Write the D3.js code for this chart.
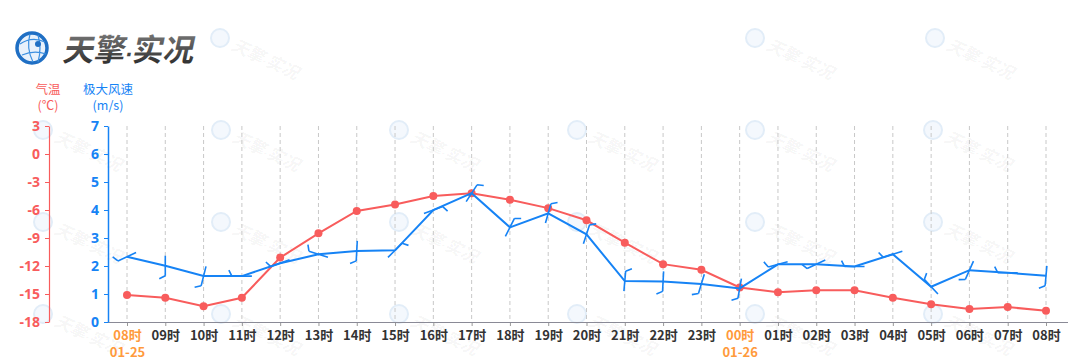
<!DOCTYPE html>
<html>
<head>
<meta charset="utf-8">
<script src="https://cdn.jsdelivr.net/npm/d3@7"></script>
<style>
  body { margin: 0; background: #fff; }
  svg { display: block; font-family: "Noto Sans CJK SC", "Noto Sans", sans-serif; }
</style>
</head>
<body>
<div id="chart"></div>
<script>
// hours shown on the x axis (25 points, 08时 01-25 -> 08时 01-26)
var hourLabels = ['08时','09时','10时','11时','12时','13时','14时','15时','16时','17时','18时','19时','20时',
  '21时','22时','23时','00时','01时','02时','03时','04时','05时','06时','07时','08时'];
var dateLabels = { 0: '01-25', 16: '01-26' };

// 气温 (℃)
var temperature = [-15.1, -15.4, -16.3, -15.4, -11.1, -8.5, -6.1, -5.4, -4.5, -4.2, -4.9, -5.8, -7.1,
  -9.5, -11.8, -12.4, -14.3, -14.8, -14.6, -14.6, -15.4, -16.1, -16.6, -16.4, -16.8];

// 极大风速 (m/s)
var windSpeed = [2.33, 2.01, 1.64, 1.64, 2.1, 2.42, 2.54, 2.56, 4.0, 4.6, 3.38, 3.88, 3.13,
  1.46, 1.45, 1.36, 1.2, 2.06, 2.06, 1.98, 2.42, 1.26, 1.85, 1.76, 1.65];

// barb rotation (deg, clockwise)
var windAngle = [65, 0, 14, 90, 70, 108, 3, 225, 250, 213, 207, 196, 198,
  185, 3, 17, 10, 75, 65, 90, 72, 137, 24, 90, 5];

var tempTicks = [-18, -15, -12, -9, -6, -3, 0, 3];
var windTicks = [0, 1, 2, 3, 4, 5, 6, 7];

var W = 1080, H = 363;
var RED = '#f85c5c', BLUE = '#1683f5', ORANGE = '#ff9a3c';

var svg = d3.select('#chart').append('svg').attr('width', W).attr('height', H);

function brand(sel, size) {
  sel.append('tspan').text('天擎');
  sel.append('tspan').attr('font-family', '"DejaVu Sans", sans-serif').attr('font-size', size * 0.6).text('·');
  sel.append('tspan').text('实况');
}

// watermarks
var marks = svg.append('g');
var spots = [[220, 38], [755, 38], [935, 38]];
for (var r = 0; r < 3; r++) {
  for (var c = 0; c < 6; c++) spots.push([43 + c * 178, 130 + r * 92]);
}
spots.forEach(function (p) {
  var g = marks.append('g').attr('transform', 'translate(' + p[0] + ',' + p[1] + ')');
  g.append('circle').attr('r', 9).attr('fill', '#f4f8fd').attr('stroke', '#e2edf8').attr('stroke-width', 2);
  g.append('text').attr('x', 14).attr('y', 6)
    .attr('transform', 'rotate(25)')
    .attr('font-size', 17).attr('font-weight', 'bold').attr('font-style', 'italic')
    .attr('fill', '#000').attr('fill-opacity', 0.05)
    .call(brand, 17);
});

// logo
var logo = svg.append('g');
var grad = svg.append('defs').append('linearGradient').attr('id', 'lg').attr('x1', 0).attr('y1', 0).attr('x2', 0).attr('y2', 1);
grad.append('stop').attr('offset', '0%').attr('stop-color', '#888');
grad.append('stop').attr('offset', '100%').attr('stop-color', '#222');
logo.append('circle').attr('cx', 32).attr('cy', 48).attr('r', 15).attr('fill', '#e8f1fb').attr('stroke', '#1f6fc4').attr('stroke-width', 3.5);
logo.append('path').attr('d', 'M20,44 Q32,36 45,42 M22,55 Q34,50 46,54 M30,34 Q26,48 33,62 M38,35 Q42,48 38,62')
  .attr('fill', 'none').attr('stroke', '#3b8fe0').attr('stroke-width', 1.2);
logo.append('circle').attr('cx', 38).attr('cy', 44).attr('r', 3).attr('fill', '#1f6fc4');
logo.append('text').attr('x', 62).attr('y', 61)
  .attr('transform', 'skewX(-12) translate(13,0)')
  .attr('font-size', 31).attr('font-weight', 'bold')
  .attr('fill', 'url(#lg)').call(brand, 31);

// scales
var x = d3.scalePoint().domain(d3.range(hourLabels.length)).range([127, 1046]);
var yT = d3.scaleLinear().domain([-18, 3]).range([322, 126]);
var yW = d3.scaleLinear().domain([0, 7]).range([322, 126]);

// vertical dashed grid
svg.append('g').selectAll('line').data(x.domain()).join('line')
  .attr('x1', x).attr('x2', x).attr('y1', 126).attr('y2', 322)
  .attr('stroke', '#c8c8c8').attr('stroke-dasharray', '4,3');

// x axis
var xa = svg.append('g').attr('transform', 'translate(0,322)')
  .call(d3.axisBottom(x).tickFormat(function (i) { return hourLabels[i]; }).tickSize(4).tickPadding(5));
xa.select('.domain').remove();
xa.selectAll('.tick line').attr('stroke', '#999');
xa.selectAll('.tick text').attr('font-size', 13).attr('font-weight', 'bold')
  .attr('font-family', '"Noto Sans CJK SC", sans-serif')
  .attr('fill', function (i) { return dateLabels[i] ? ORANGE : '#333'; });
xa.selectAll('.tick').filter(function (i) { return dateLabels[i]; })
  .append('text').attr('y', 26).attr('dy', '0.71em')
  .attr('font-size', 13).attr('font-weight', 'bold').attr('fill', ORANGE)
  .attr('font-family', '"Noto Sans CJK SC", sans-serif')
  .text(function (i) { return dateLabels[i]; });
svg.append('line').attr('x1', 108).attr('x2', 1068).attr('y1', 322.5).attr('y2', 322.5)
  .attr('stroke', '#8a8a96').attr('stroke-width', 1);

function plain(d) { return String(d); }

// temperature axis
var ta = svg.append('g').attr('transform', 'translate(49,0)')
  .call(d3.axisLeft(yT).tickValues(tempTicks).tickFormat(plain).tickSize(4).tickSizeOuter(0).tickPadding(5));
ta.select('.domain').attr('stroke', RED).attr('stroke-width', 1.2);
ta.selectAll('.tick line').attr('stroke', RED);
ta.selectAll('.tick text').attr('fill', RED).attr('font-size', 14).attr('font-weight', 'bold')
  .attr('font-family', '"Noto Sans", sans-serif');

// wind axis
var wa = svg.append('g').attr('transform', 'translate(108,0)')
  .call(d3.axisLeft(yW).tickValues(windTicks).tickFormat(plain).tickSize(4).tickSizeOuter(0).tickPadding(5));
wa.select('.domain').attr('stroke', BLUE).attr('stroke-width', 1.5);
wa.selectAll('.tick line').attr('stroke', BLUE);
wa.selectAll('.tick text').attr('fill', BLUE).attr('font-size', 14).attr('font-weight', 'bold')
  .attr('font-family', '"Noto Sans", sans-serif');

// axis titles
var titles = [[48, '气温', '(℃)', RED], [108, '极大风速', '(m/s)', BLUE]];
titles.forEach(function (t) {
  svg.append('text').attr('x', t[0]).attr('y', 94).attr('text-anchor', 'middle')
    .attr('font-size', 12.5).attr('fill', t[3]).text(t[1]);
  svg.append('text').attr('x', t[0]).attr('y', 110).attr('text-anchor', 'middle')
    .attr('font-size', 12.5).attr('fill', t[3]).text(t[2]);
});

// temperature line
svg.append('path').datum(temperature)
  .attr('d', d3.line().x(function (d, i) { return x(i); }).y(function (d) { return yT(d); }))
  .attr('fill', 'none').attr('stroke', RED).attr('stroke-width', 2);
svg.append('g').selectAll('circle').data(temperature).join('circle')
  .attr('cx', function (d, i) { return x(i); }).attr('cy', function (d) { return yT(d); })
  .attr('r', 4).attr('fill', RED);

// wind line
svg.append('path').datum(windSpeed)
  .attr('d', d3.line().x(function (d, i) { return x(i); }).y(function (d) { return yW(d); }))
  .attr('fill', 'none').attr('stroke', BLUE).attr('stroke-width', 2);

// wind barbs
svg.append('g').selectAll('path').data(windSpeed).join('path')
  .attr('transform', function (d, i) { return 'translate(' + x(i) + ',' + yW(d) + ') rotate(' + windAngle[i] + ')'; })
  .attr('d', 'M0,10L0,-10M0,10L-6,13')
  .attr('fill', 'none').attr('stroke', BLUE).attr('stroke-width', 1.6);
</script>
</body>
</html>
